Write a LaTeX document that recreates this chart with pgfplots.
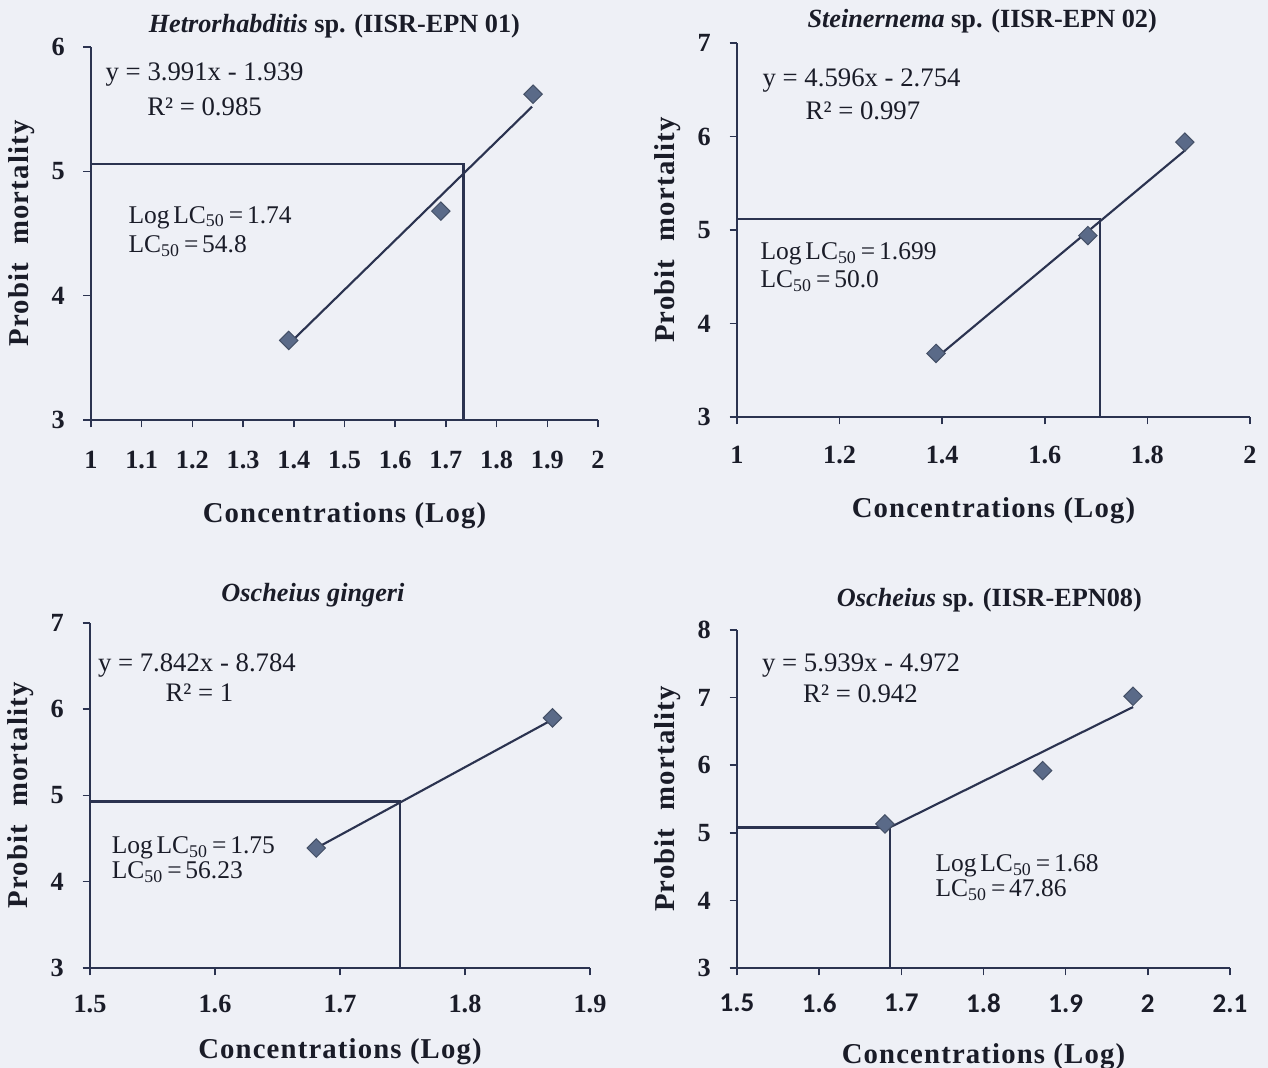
\documentclass[border=0pt]{standalone}
\usepackage{pgfplots}
\pgfplotsset{compat=1.18}
\usepackage{fontspec}
\setmainfont{Liberation Serif}
\newfontfamily\labfont[LetterSpace=4]{Liberation Serif}
\newfontfamily\calfont{Carlito}
\definecolor{bg}{HTML}{EEF0F6}
\definecolor{ln}{HTML}{2B3350}
\definecolor{mk}{HTML}{5A6A88}
\definecolor{tx}{HTML}{1A1C28}

\tikzset{
  ann/.style={anchor=west, font=\fontsize{10.7}{12}\selectfont, text=tx, inner sep=0pt},
  annlc/.style={anchor=west, font=\fontsize{10.2}{12}\selectfont, text=tx, inner sep=0pt},
}
\newcommand{\ts}{\hspace{0.15em}}

\pgfplotsset{
  probit/.style={
    scale only axis,
    anchor=south west,
    axis lines*=left,
    axis line style={ln, line width=0.8pt},
    tick style={ln, line width=0.6pt},
    tick align=outside,
    major tick length=3pt,
    minor tick num=0,
    /pgf/number format/assume math mode=true,
    ticklabel style={font=\fontsize{10.5}{12}\selectfont\bfseries, text=tx},
    yticklabel style={xshift=-4pt},
    label style={font=\labfont\fontsize{11.5}{13}\selectfont\bfseries, text=tx},
    xlabel style={at={(axis description cs:0.5,0)}, anchor=center},
    title style={font=\fontsize{10.5}{12}\selectfont\bfseries, text=tx, anchor=center},
    clip=false,
    xlabel={Concentrations (Log)},
    ylabel={Probit\hspace{4pt} mortality},
  },
  fitline/.style={ln, line width=0.85pt},
  refline/.style={ln, line width=0.95pt},
  pts/.style={only marks, mark=square*, mark size=2.6pt,
    mark options={rotate=45, fill=mk, draw=mk!75!black, line width=0.4pt}},
}

\begin{document}
\begin{tikzpicture}
\useasboundingbox (0,0) rectangle (507.2pt,427.2pt);
\fill[bg] (0,0) rectangle (507.2pt,427.2pt);

% Panel 1
\begin{axis}[probit,
  at={(36.4pt,259.2pt)}, width=202.8pt, height=149.2pt,
  xmin=1, xmax=2, ymin=3, ymax=6,
  xtick={1,1.1,1.2,1.3,1.4,1.5,1.6,1.7,1.8,1.9,2},
  ytick={3,4,5,6},
  xticklabel style={yshift=-6pt},
  xlabel style={yshift=-38.4pt},
  ylabel style={at={(axis description cs:-0.136,0.5)}, anchor=center},
  title style={at={(axis description cs:0.48,1)}, yshift=2.4pt},
  title={\textit{Hetrorhabditis} sp. (IISR-EPN 01)},
]
\addplot[refline] coordinates {(1,5.06) (1.735,5.06) (1.735,3)};
\addplot[fitline] coordinates {(1.39,3.61) (1.87,5.52)};
\addplot[pts] coordinates {(1.39,3.64) (1.69,4.68) (1.872,5.62)};
\node[ann] at (axis cs:1.028,5.78) {y = 3.991x - 1.939};
\node[ann] at (axis cs:1.11,5.52) {R² = 0.985};
\node[annlc] at (axis cs:1.073,4.63) {Log\ts LC\textsubscript{50}\ts=\ts1.74};
\node[annlc] at (axis cs:1.073,4.40) {LC\textsubscript{50}\ts=\ts54.8};
\end{axis}

% Panel 2
\begin{axis}[probit,
  at={(294.8pt,260.4pt)}, width=205.2pt, height=149.6pt,
  xmin=1, xmax=2, ymin=3, ymax=7,
  xtick={1,1.2,1.4,1.6,1.8,2},
  ytick={3,4,5,6,7},
  xticklabel style={yshift=-5.2pt},
  xlabel style={yshift=-37.6pt},
  ylabel style={at={(axis description cs:-0.1345,0.5)}, anchor=center},
  title style={at={(axis description cs:0.478,1)}, yshift=2.9pt},
  title={\textit{Steinernema} sp. (IISR-EPN 02)},
]
\addplot[refline] coordinates {(1,5.12) (1.708,5.12) (1.708,3)};
\addplot[fitline] coordinates {(1.388,3.63) (1.873,5.85)};
\addplot[pts] coordinates {(1.388,3.68) (1.684,4.94) (1.873,5.94)};
\node[ann] at (axis cs:1.049,6.60) {y = 4.596x - 2.754};
\node[ann] at (axis cs:1.133,6.28) {R² = 0.997};
\node[annlc] at (axis cs:1.045,4.74) {Log\ts LC\textsubscript{50}\ts=\ts1.699};
\node[annlc] at (axis cs:1.045,4.45) {LC\textsubscript{50}\ts=\ts50.0};
\end{axis}

% Panel 3
\begin{axis}[probit,
  at={(36pt,40pt)}, width=200pt, height=138pt,
  xmin=1.5, xmax=1.9, ymin=3, ymax=7,
  xtick={1.5,1.6,1.7,1.8,1.9},
  ytick={3,4,5,6,7},
  xticklabel style={yshift=-4.4pt},
  xlabel style={yshift=-33.6pt},
  ylabel style={at={(axis description cs:-0.138,0.5)}, anchor=center},
  title style={at={(axis description cs:0.446,1)}, yshift=5.2pt},
  title={\textit{Oscheius gingeri}},
]
\addplot[refline] coordinates {(1.5,4.93) (1.748,4.93) (1.748,3)};
\addplot[fitline] coordinates {(1.681,4.39) (1.87,5.88)};
\addplot[pts] coordinates {(1.681,4.39) (1.87,5.9)};
\node[ann] at (axis cs:1.506,6.51) {y = 7.842x - 8.784};
\node[ann] at (axis cs:1.56,6.19) {R² = 1};
\node[annlc] at (axis cs:1.517,4.39) {Log\ts LC\textsubscript{50}\ts=\ts1.75};
\node[annlc] at (axis cs:1.517,4.11) {LC\textsubscript{50}\ts=\ts56.23};
\end{axis}

% Panel 4
\begin{axis}[probit,
  at={(294.8pt,40pt)}, width=197.2pt, height=135.2pt,
  xmin=1.5, xmax=2.1, ymin=3, ymax=8,
  xtick={1.5,1.6,1.7,1.8,1.9,2,2.1},
  ytick={3,4,5,6,7,8},
  xticklabel style={font=\calfont\fontsize{10.8}{12}\selectfont\bfseries, yshift=-4pt},
  xlabel style={yshift=-35.6pt},
  ylabel style={at={(axis description cs:-0.14,0.5)}, anchor=center},
  title style={at={(axis description cs:0.512,1)}, yshift=6.1pt},
  title={\textit{Oscheius} sp. (IISR-EPN08)},
]
\addplot[refline] coordinates {(1.5,5.08) (1.686,5.08) (1.686,3)};
\addplot[fitline] coordinates {(1.686,5.08) (1.982,6.86)};
\addplot[pts] coordinates {(1.68,5.13) (1.872,5.92) (1.982,7.02)};
\node[ann] at (axis cs:1.53,7.48) {y = 5.939x - 4.972};
\node[ann] at (axis cs:1.58,7.05) {R² = 0.942};
\node[annlc] at (axis cs:1.741,4.51) {Log\ts LC\textsubscript{50}\ts=\ts1.68};
\node[annlc] at (axis cs:1.741,4.15) {LC\textsubscript{50}\ts=\ts47.86};
\end{axis}
\end{tikzpicture}
\end{document}
